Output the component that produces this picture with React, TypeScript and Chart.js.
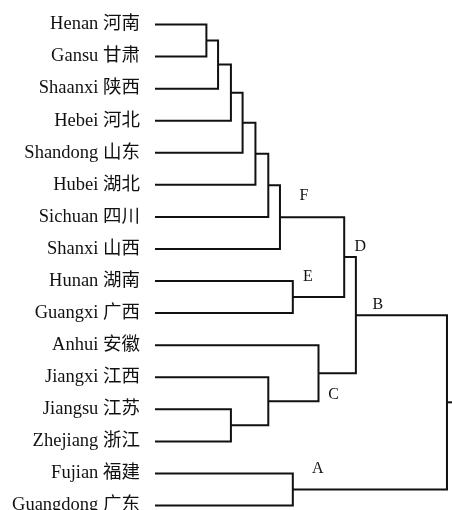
import React, { useEffect, useRef } from "react";
import { Chart, registerables } from "chart.js";

Chart.register(...registerables);

// Leaves, top to bottom
const leafNames = [
  "Henan 河南",
  "Gansu 甘肃",
  "Shaanxi 陕西",
  "Hebei 河北",
  "Shandong 山东",
  "Hubei 湖北",
  "Sichuan 四川",
  "Shanxi 山西",
  "Hunan 湖南",
  "Guangxi 广西",
  "Anhui 安徽",
  "Jiangxi 江西",
  "Jiangsu 江苏",
  "Zhejiang 浙江",
  "Fujian 福建",
  "Guangdong 广东",
];

// Cluster merges: ids < 16 are leaves, id 16 + k is merge k
const mergeLeft = [0, 16, 17, 18, 19, 20, 21, 8, 22, 12, 11, 10, 24, 14, 28];
const mergeRight = [1, 2, 3, 4, 5, 6, 7, 9, 23, 13, 25, 26, 27, 15, 29];
const mergeDistance = [4.4, 5.4, 6.5, 7.5, 8.6, 9.7, 10.7, 11.8, 16.2, 6.5, 9.7, 14.0, 17.2, 11.8, 25.0];
const mergeTag = ["", "", "", "", "", "", "F", "E", "D", "", "", "C", "B", "A", ""];

const X_MAX = 25.43;
const LEAF_COUNT = leafNames.length;

// Row position of every node (leaves at their index, merges at the middle of their children)
function nodeRows(): number[] {
  const rows: number[] = leafNames.map((_, i) => i);
  mergeLeft.forEach((l, k) => {
    rows[LEAF_COUNT + k] = (rows[l] + rows[mergeRight[k]]) / 2;
  });
  return rows;
}

function nodeDistance(id: number): number {
  return id < LEAF_COUNT ? 0 : mergeDistance[id - LEAF_COUNT];
}

const LABEL_OFFSET: Record<string, [number, number]> = {
  F: [24, -21],
  E: [15, -20],
  D: [16, -10],
  C: [15, 22],
  B: [22, -10],
  A: [25, -21],
};

const INK = "#111111";

export default function App() {
  const canvasRef = useRef<HTMLCanvasElement | null>(null);

  useEffect(() => {
    const canvas = canvasRef.current;
    if (!canvas) return;
    const rows = nodeRows();

    const datasets: any[] = mergeLeft.map((l, k) => {
      const r = mergeRight[k];
      const h = mergeDistance[k];
      return {
        data: [
          { x: nodeDistance(l), y: rows[l] },
          { x: h, y: rows[l] },
          { x: h, y: rows[r] },
          { x: nodeDistance(r), y: rows[r] },
        ],
      };
    });
    const rootId = LEAF_COUNT + mergeLeft.length - 1;
    datasets.push({
      data: [
        { x: nodeDistance(rootId), y: rows[rootId] },
        { x: X_MAX, y: rows[rootId] },
      ],
    });
    datasets.forEach((d) => {
      d.showLine = true;
      d.borderColor = INK;
      d.borderWidth = 2;
      d.pointRadius = 0;
      d.fill = false;
      d.borderJoinStyle = "miter";
      d.borderCapStyle = "butt";
    });

    const nodeLabels = {
      id: "nodeLabels",
      afterDatasetsDraw(chart: any) {
        const { ctx, scales } = chart;
        ctx.save();
        ctx.fillStyle = INK;
        ctx.font = "16px 'Liberation Serif', serif";
        ctx.textAlign = "center";
        ctx.textBaseline = "middle";
        mergeTag.forEach((tag, k) => {
          if (!tag) return;
          const [dx, dy] = LABEL_OFFSET[tag];
          const px = scales.x.getPixelForValue(mergeDistance[k]);
          const py = scales.y.getPixelForValue(rows[LEAF_COUNT + k]);
          ctx.fillText(tag, px + dx, py + dy);
        });
        ctx.restore();
      },
    };

    const chart = new Chart(canvas, {
      type: "scatter",
      data: { datasets },
      plugins: [nodeLabels],
      options: {
        responsive: false,
        maintainAspectRatio: false,
        animation: false,
        layout: { padding: 0 },
        plugins: { legend: { display: false }, tooltip: { enabled: false } },
        scales: {
          x: { type: "linear", display: false, min: 0, max: X_MAX },
          y: {
            type: "linear",
            reverse: true,
            min: -0.764,
            max: 15.14,
            grid: { display: false, drawTicks: false },
            border: { display: false },
            afterBuildTicks: (scale: any) => {
              scale.ticks = leafNames.map((_, i) => ({ value: i }));
            },
            afterFit: (scale: any) => {
              scale.width = 155;
              scale.paddingTop = 0;
              scale.paddingBottom = 0;
            },
            ticks: {
              autoSkip: false,
              padding: 15,
              color: INK,
              font: { size: 18.5, family: "'Liberation Serif', 'Noto Sans CJK SC', serif" },
              callback: (v: any) => leafNames[Number(v)] ?? "",
            },
          },
        },
      },
    });
    return () => chart.destroy();
  }, []);

  return (
    <div style={{ position: "fixed", left: 0, top: 0, width: 452, height: 510, background: "#fff" }}>
      <canvas ref={canvasRef} width={452} height={510} />
    </div>
  );
}
